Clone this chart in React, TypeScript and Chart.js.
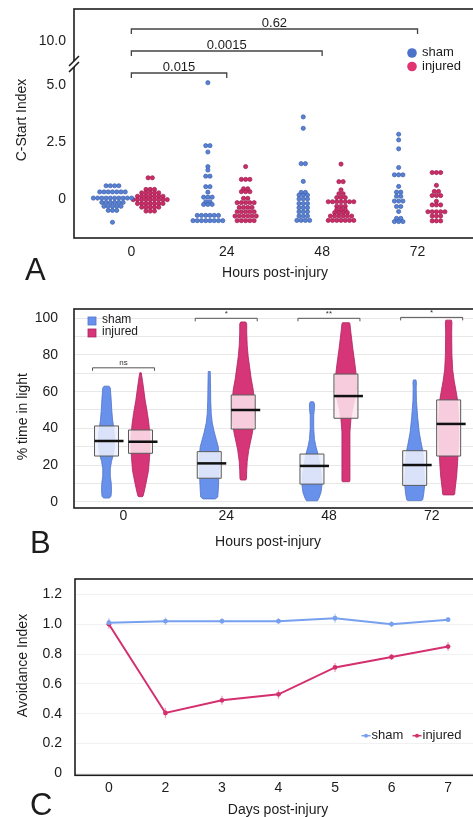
import React, { useEffect, useRef } from "react";
import { Chart, registerables } from "chart.js";

Chart.register(...registerables);

const FONT = "'Liberation Sans', Arial, Helvetica, sans-serif";
const INK = "#1c1c1c";

// ================= Panel A : C-Start Index (dot plots) =================
const hoursA = [0, 24, 48, 72];
const yTickValuesA = [0, 2.5, 5, 10];
// rows: [value, number of fish in that bin]
const shamA0: [number, number][] = [[0.58, 4], [0.31, 7], [0.04, 10], [-0.15, 6], [-0.32, 5], [-0.5, 3], [-1.02, 1]];
const injA0: [number, number][] = [[0.93, 2], [0.42, 3], [0.27, 5], [0.12, 7], [-0.03, 9], [-0.2, 7], [-0.36, 5], [-0.53, 3]];
const shamA24: [number, number][] = [[5.1, 1], [2.34, 2], [2.06, 1], [1.42, 1], [1.27, 1], [1.0, 2], [0.54, 2], [0.3, 1], [0.08, 3], [-0.12, 2], [-0.24, 3], [-0.72, 6], [-0.95, 8]];
const injA24: [number, number][] = [[1.42, 1], [0.86, 3], [0.45, 2], [0.32, 3], [0.03, 2], [-0.16, 5], [-0.37, 4], [-0.56, 5], [-0.75, 6], [-0.95, 5]];
const shamA48: [number, number][] = [[3.6, 1], [3.1, 1], [1.55, 2], [0.77, 1], [0.29, 2], [0.17, 3], [0.0, 3], [-0.2, 3], [-0.38, 3], [-0.56, 3], [-0.75, 3], [-0.94, 4]];
const injA48: [number, number][] = [[1.53, 1], [0.76, 2], [0.4, 1], [0.23, 2], [0.06, 3], [-0.12, 7], [-0.32, 3], [-0.47, 3], [-0.6, 4], [-0.75, 6], [-0.94, 7]];
const shamA72: [number, number][] = [[2.84, 1], [2.59, 1], [2.2, 1], [1.38, 1], [1.06, 3], [0.55, 1], [0.3, 2], [0.12, 2], [-0.09, 3], [-0.33, 2], [-0.55, 1], [-0.85, 2], [-0.99, 3]];
const injA72: [number, number][] = [[1.16, 3], [0.6, 1], [0.33, 2], [0.15, 3], [-0.1, 1], [-0.26, 3], [-0.56, 5], [-0.75, 3], [-0.96, 3]];
const shamGroupsA = [shamA0, shamA24, shamA48, shamA72];
const injGroupsA = [injA0, injA24, injA48, injA72];
const comparisonsA: [number, number, string][] = [[0, 24, "0.015"], [0, 48, "0.0015"], [0, 72, "0.62"]];

// ================= Panel B : % time in light (violins) =================
const hoursB = [0, 24, 48, 72];
const yTickValuesB = [0, 10, 20, 30, 40, 50, 60, 70, 80, 90, 100];
// violin outlines: [value, relative density width]
const shamV0: [number, number][] = [[63, 5], [62, 7.5], [57, 9], [50, 10.5], [45, 12], [41, 14], [36, 16], [30, 16], [25, 13], [22, 10], [18, 7.5], [14, 7.5], [10, 9.5], [6, 10], [3, 9], [2, 6]];
const injV0: [number, number][] = [[70.3, 1.5], [66, 4], [62, 6], [55, 9.5], [48, 14], [42, 17], [35, 19], [28, 19], [24, 18], [17, 16], [10, 11], [5, 7], [3, 5], [2.7, 3]];
const shamV24: [number, number][] = [[71, 2], [65, 2.5], [55, 3], [48, 4], [43, 6], [38, 10], [34, 14], [30, 18], [25, 20], [18, 20], [12, 19], [6, 18], [2.5, 17], [1.5, 12]];
const injV24: [number, number][] = [[98, 5], [97, 7], [92, 7], [85, 8], [79, 10], [73, 13], [67, 16], [61, 20], [55, 22], [48, 23], [42, 21], [37, 18], [32, 14], [28, 11], [22, 8], [17, 7], [12.5, 6.5], [11.8, 5]];
const shamV48: [number, number][] = [[54.5, 3], [53.5, 5], [51, 5], [47, 3.5], [40, 3.5], [34, 5], [30, 8], [26, 12], [20, 16], [14, 19], [9, 20], [5, 18], [2, 14], [0.5, 11]];
const injV48: [number, number][] = [[97.6, 7], [97, 8], [92, 10], [83, 14], [75, 18], [68, 21], [62, 22], [56, 18], [50, 13], [45, 10], [38, 8], [30, 8], [20, 8], [11.5, 8], [10.9, 7]];
const shamV72: [number, number][] = [[66.4, 2.5], [65, 3.5], [62, 3], [55, 3.5], [46, 6], [38, 9], [32, 13], [28, 16], [22, 18], [15, 19], [9, 20], [4, 18], [1, 16], [0.6, 13]];
const injV72: [number, number][] = [[99, 5.5], [98, 6.5], [92, 6], [80, 6.5], [72, 8], [66, 11], [60, 15], [55, 18], [45, 20], [35, 20], [27, 19], [22, 18], [14, 16], [7, 13], [4, 12], [3.7, 10]];
const shamViolins = [shamV0, shamV24, shamV48, shamV72];
const injViolins = [injV0, injV24, injV48, injV72];
// [q1, median, q3]
const shamBoxes: [number, number, number][] = [[24.9, 33.1, 41.3], [12.8, 20.9, 27.3], [9.6, 19.5, 26.0], [8.9, 20.0, 27.8]];
const injBoxes: [number, number, number][] = [[26.4, 32.7, 39.1], [39.6, 50.0, 58.2], [45.5, 57.6, 69.6], [24.9, 42.4, 55.5]];
const sigLabelsB = ["ns", "*", "**", "*"];
const sigLevelsB = [73, 100, 100, 100.5];

// ================= Panel C : Avoidance Index (lines) =================
const daysC = ["0", "2", "3", "4", "5", "6", "7"];
const yTickValuesC = [0, 0.2, 0.4, 0.6, 0.8, 1.0, 1.2];
const shamC = [1.01, 1.02, 1.02, 1.02, 1.04, 1.0, 1.03];
const injuredC = [1.0, 0.405, 0.49, 0.53, 0.71, 0.78, 0.85];
const shamErrC = [0.03, 0.025, 0.02, 0.02, 0.03, 0.02, 0.015];
const injuredErrC = [0.03, 0.035, 0.03, 0.03, 0.03, 0.02, 0.03];

// ---------------- helpers ----------------
const SHAM_DOT = "#5a82d2";
const SHAM_DOT_EDGE = "#3b5fae";
const INJ_DOT = "#cc2c68";
const INJ_DOT_EDGE = "#9c1c4e";
const SHAM_V = "#6891ec";
const SHAM_V_EDGE = "#4f74c8";
const INJ_V = "#d63678";
const INJ_V_EDGE = "#ad2260";
const SHAM_LINE = "#77a0ee";
const INJ_LINE = "#d42f6e";

const brokenPos = (v: number) => (v <= 6 ? v : 6 + (v - 6) * 0.2325);

function expandRows(rows: [number, number][], center: number, gap: number) {
  const pts: { x: number; y: number }[] = [];
  rows.forEach(([v, n]) => {
    for (let i = 0; i < n; i++) pts.push({ x: center + (i - (n - 1) / 2) * gap, y: v });
  });
  return pts;
}

type TextItem = {
  text: string;
  x: number;
  y: number;
  size: number;
  rot?: number;
  align?: CanvasTextAlign;
  baseline?: CanvasTextBaseline;
};

function textPlugin(items: TextItem[]) {
  return {
    id: "texts",
    afterDraw(chart: any) {
      const ctx = chart.ctx as CanvasRenderingContext2D;
      items.forEach((t) => {
        ctx.save();
        ctx.fillStyle = INK;
        ctx.font = `${t.size}px ${FONT}`;
        ctx.textAlign = t.align || "center";
        ctx.textBaseline = t.baseline || "alphabetic";
        ctx.translate(t.x, t.y);
        if (t.rot) ctx.rotate(t.rot);
        ctx.fillText(t.text, 0, 0);
        ctx.restore();
      });
    },
  };
}

const framePlugin = {
  id: "frame",
  afterDraw(chart: any) {
    const { ctx, chartArea } = chart;
    const { left, top, right, bottom } = chartArea;
    ctx.save();
    ctx.strokeStyle = "#1e1e1e";
    ctx.lineWidth = 1.6;
    ctx.strokeRect(left, top, right - left, bottom - top);
    ctx.restore();
  },
};

const tickFont = { family: FONT, size: 14 };

function baseOptions(padTop: number) {
  return {
    animation: false as const,
    responsive: false,
    devicePixelRatio: 1,
    events: [] as any[],
    layout: { padding: { top: padTop, left: 0, right: 0, bottom: 0 } },
    plugins: { legend: { display: false }, tooltip: { enabled: false } },
  };
}

const fitY = (w: number) => (s: any) => {
  s.width = w;
  s.paddingTop = 0;
  s.paddingBottom = 0;
};
const fitX = (h: number) => (s: any) => {
  s.height = h;
  s.paddingLeft = 0;
  s.paddingRight = 0;
};

export default function App() {
  const aRef = useRef<HTMLCanvasElement>(null);
  const bRef = useRef<HTMLCanvasElement>(null);
  const cRef = useRef<HTMLCanvasElement>(null);

  useEffect(() => {
    // ---------------- Panel A ----------------
    const GROUP_OFF_A = 4.75;
    const DOT_GAP_A = 1.07;
    const shamPts = hoursA.flatMap((h, i) => expandRows(shamGroupsA[i], h - GROUP_OFF_A, DOT_GAP_A));
    const injPts = hoursA.flatMap((h, i) => expandRows(injGroupsA[i], h + GROUP_OFF_A, DOT_GAP_A));

    const bracketsA = {
      id: "bracketsA",
      afterDatasetsDraw(chart: any) {
        const ctx = chart.ctx as CanvasRenderingContext2D;
        const xs = chart.scales.x;
        ctx.save();
        ctx.strokeStyle = "#444";
        ctx.lineWidth = 1.3;
        ctx.fillStyle = INK;
        ctx.font = `13px ${FONT}`;
        ctx.textAlign = "center";
        ctx.textBaseline = "alphabetic";
        comparisonsA.forEach(([a, b, label], i) => {
          const y = 73 - i * 22;
          const x1 = xs.getPixelForValue(a);
          const x2 = xs.getPixelForValue(b);
          ctx.beginPath();
          ctx.moveTo(x1, y + 5);
          ctx.lineTo(x1, y);
          ctx.lineTo(x2, y);
          ctx.lineTo(x2, y + 5);
          ctx.stroke();
          ctx.fillText(label, (x1 + x2) / 2, y - 2.5);
        });
        ctx.restore();
      },
    };

    const legendA = {
      id: "legendA",
      afterDraw(chart: any) {
        const ctx = chart.ctx as CanvasRenderingContext2D;
        ctx.save();
        ctx.font = `13px ${FONT}`;
        ctx.textBaseline = "middle";
        ctx.textAlign = "left";
        [["sham", "#4a72c8", 53], ["injured", "#e0336f", 66.5]].forEach(([t, c, y]) => {
          ctx.fillStyle = c as string;
          ctx.beginPath();
          ctx.arc(412, y as number, 4.8, 0, Math.PI * 2);
          ctx.fill();
          ctx.fillStyle = INK;
          ctx.fillText(t as string, 422, (y as number) - 0.5);
        });
        ctx.restore();
      },
    };

    const breakA = {
      id: "breakA",
      afterDraw(chart: any) {
        const ctx = chart.ctx as CanvasRenderingContext2D;
        const left = chart.chartArea.left;
        ctx.save();
        ctx.fillStyle = "#fff";
        ctx.fillRect(left - 3, 61, 6, 6);
        ctx.strokeStyle = "#1e1e1e";
        ctx.lineWidth = 1.6;
        ctx.beginPath();
        ctx.moveTo(left - 5, 66);
        ctx.lineTo(left + 5, 56);
        ctx.moveTo(left - 5, 72);
        ctx.lineTo(left + 5, 62);
        ctx.stroke();
        ctx.restore();
      },
    };

    const chartA = new Chart(aRef.current as HTMLCanvasElement, {
      type: "scatter",
      data: {
        datasets: [
          {
            label: "sham",
            data: shamPts,
            pointRadius: 2.1,
            pointBackgroundColor: SHAM_DOT,
            pointBorderColor: SHAM_DOT_EDGE,
            pointBorderWidth: 0.7,
          },
          {
            label: "injured",
            data: injPts,
            pointRadius: 2.1,
            pointBackgroundColor: INJ_DOT,
            pointBorderColor: INJ_DOT_EDGE,
            pointBorderWidth: 0.7,
          },
        ],
      },
      options: {
        ...baseOptions(9),
        scales: {
          x: {
            type: "linear",
            min: -14.43,
            max: 89.05,
            afterBuildTicks: (s: any) => {
              s.ticks = hoursA.map((v) => ({ value: v }));
            },
            afterFit: fitX(52),
            grid: { display: false, drawTicks: false },
            border: { display: false },
            ticks: { padding: 5.6, font: tickFont, color: INK, autoSkip: false, maxRotation: 0, callback: (v: any) => String(v) },
          },
          y: {
            type: "linear",
            min: -1.711,
            max: 8.333,
            afterBuildTicks: (s: any) => {
              s.ticks = yTickValuesA.map((v) => ({ value: brokenPos(v) }));
            },
            afterFit: fitY(74),
            grid: { display: false, drawTicks: false },
            border: { display: false },
            ticks: {
              padding: 8,
              font: tickFont,
              color: INK,
              callback: (_v: any, i: number) => (yTickValuesA[i] === 0 ? "0" : yTickValuesA[i].toFixed(1)),
            },
          },
        },
      } as any,
      plugins: [
        framePlugin,
        breakA,
        bracketsA,
        legendA,
        textPlugin([
          { text: "C-Start Index", x: 22, y: 120, size: 14, rot: -Math.PI / 2, baseline: "middle" },
          { text: "Hours post-injury", x: 275, y: 277, size: 14 },
          { text: "A", x: 25, y: 280, size: 31, align: "left" },
        ]),
      ],
    });

    // ---------------- Panel B ----------------
    const GROUP_OFF_B = 3.97;
    const violinsB = {
      id: "violinsB",
      beforeDatasetsDraw(chart: any) {
        const ctx = chart.ctx as CanvasRenderingContext2D;
        const xs = chart.scales.x;
        const ys = chart.scales.y;
        const drawOne = (
          h: number,
          off: number,
          prof: [number, number][],
          box: [number, number, number],
          fill: string,
          edge: string,
          boxFill: string
        ) => {
          const cx = xs.getPixelForValue(h + off);
          ctx.save();
          ctx.beginPath();
          prof.forEach(([v, w], i) => {
            const px = cx - w * 0.5;
            const py = ys.getPixelForValue(v);
            if (i === 0) ctx.moveTo(px, py);
            else ctx.lineTo(px, py);
          });
          for (let i = prof.length - 1; i >= 0; i--) {
            const [v, w] = prof[i];
            ctx.lineTo(cx + w * 0.5, ys.getPixelForValue(v));
          }
          ctx.closePath();
          ctx.fillStyle = fill;
          ctx.fill();
          ctx.strokeStyle = edge;
          ctx.lineWidth = 0.8;
          ctx.lineJoin = "round";
          ctx.stroke();
          // box
          const bw = 12;
          const yq3 = ys.getPixelForValue(box[2]);
          const yq1 = ys.getPixelForValue(box[0]);
          ctx.fillStyle = boxFill;
          ctx.fillRect(cx - bw, yq3, bw * 2, yq1 - yq3);
          ctx.strokeStyle = "#5a5a5a";
          ctx.lineWidth = 1;
          ctx.strokeRect(cx - bw, yq3, bw * 2, yq1 - yq3);
          // median
          const ym = ys.getPixelForValue(box[1]);
          ctx.strokeStyle = "#111";
          ctx.lineWidth = 2.5;
          ctx.beginPath();
          ctx.moveTo(cx - bw, ym);
          ctx.lineTo(cx + bw + 5, ym);
          ctx.stroke();
          ctx.restore();
        };
        hoursB.forEach((h, i) => {
          drawOne(h, -GROUP_OFF_B, shamViolins[i], shamBoxes[i], SHAM_V, SHAM_V_EDGE, "rgba(236,240,252,0.86)");
          drawOne(h, GROUP_OFF_B, injViolins[i], injBoxes[i], INJ_V, INJ_V_EDGE, "rgba(253,231,238,0.86)");
        });
        // significance brackets
        ctx.save();
        ctx.strokeStyle = "#555";
        ctx.lineWidth = 1;
        ctx.fillStyle = "#333";
        ctx.font = `8px ${FONT}`;
        ctx.textAlign = "center";
        hoursB.forEach((h, i) => {
          const cx = xs.getPixelForValue(h);
          const y = ys.getPixelForValue(sigLevelsB[i]);
          ctx.beginPath();
          ctx.moveTo(cx - 31, y + 3);
          ctx.lineTo(cx - 31, y);
          ctx.lineTo(cx + 31, y);
          ctx.lineTo(cx + 31, y + 3);
          ctx.stroke();
          ctx.fillText(sigLabelsB[i], cx, y - 2.5);
        });
        ctx.restore();
      },
    };

    const legendB = {
      id: "legendB",
      afterDraw(chart: any) {
        const ctx = chart.ctx as CanvasRenderingContext2D;
        ctx.save();
        ctx.font = `12px ${FONT}`;
        ctx.textBaseline = "middle";
        ctx.textAlign = "left";
        [["sham", SHAM_V, SHAM_V_EDGE, 31], ["injured", INJ_V, INJ_V_EDGE, 43]].forEach(([t, c, e, y]) => {
          ctx.fillStyle = c as string;
          ctx.fillRect(88, (y as number) - 4, 8, 8);
          ctx.strokeStyle = e as string;
          ctx.lineWidth = 0.8;
          ctx.strokeRect(88, (y as number) - 4, 8, 8);
          ctx.fillStyle = INK;
          ctx.fillText(t as string, 102, (y as number) - 1);
        });
        ctx.restore();
      },
    };

    const chartB = new Chart(bRef.current as HTMLCanvasElement, {
      type: "scatter",
      data: {
        datasets: [
          { label: "sham", data: hoursB.map((h, i) => ({ x: h - GROUP_OFF_B, y: shamBoxes[i][1] })), pointRadius: 0 },
          { label: "injured", data: hoursB.map((h, i) => ({ x: h + GROUP_OFF_B, y: injBoxes[i][1] })), pointRadius: 0 },
        ],
      },
      options: {
        ...baseOptions(19),
        scales: {
          x: {
            type: "linear",
            min: -11.57,
            max: 85.63,
            afterBuildTicks: (s: any) => {
              s.ticks = hoursB.map((v) => ({ value: v }));
            },
            afterFit: fitX(52),
            grid: { display: false, drawTicks: false },
            border: { display: false },
            ticks: { padding: 0, font: tickFont, color: INK, autoSkip: false, maxRotation: 0, callback: (v: any) => String(v) },
          },
          y: {
            type: "linear",
            min: -3.435,
            max: 105.07,
            afterBuildTicks: (s: any) => {
              s.ticks = yTickValuesB.map((v) => ({ value: v }));
            },
            afterFit: fitY(74),
            grid: { display: true, drawTicks: false, color: "#e8e8e8", lineWidth: 1 },
            border: { display: false },
            ticks: {
              padding: 16,
              font: tickFont,
              color: INK,
              callback: (v: any) => (v % 20 === 0 ? String(v) : ""),
            },
          },
        },
      } as any,
      plugins: [
        violinsB,
        framePlugin,
        legendB,
        textPlugin([
          { text: "% time in light", x: 23, y: 126.7, size: 14, rot: -Math.PI / 2, baseline: "middle" },
          { text: "Hours post-injury", x: 268, y: 256, size: 14 },
          { text: "B", x: 30, y: 263, size: 31, align: "left" },
        ]),
      ],
    });

    // ---------------- Panel C ----------------
    const errorBarsC = {
      id: "errorBarsC",
      beforeDatasetsDraw(chart: any) {
        const ctx = chart.ctx as CanvasRenderingContext2D;
        const xs = chart.scales.x;
        const ys = chart.scales.y;
        ctx.save();
        ctx.lineWidth = 1.2;
        const draw = (vals: number[], errs: number[], color: string) => {
          ctx.strokeStyle = color;
          vals.forEach((v, i) => {
            const x = xs.getPixelForValue(i);
            ctx.beginPath();
            ctx.moveTo(x, ys.getPixelForValue(v - errs[i]));
            ctx.lineTo(x, ys.getPixelForValue(v + errs[i]));
            ctx.stroke();
          });
        };
        draw(shamC, shamErrC, "rgba(119,160,238,0.55)");
        draw(injuredC, injuredErrC, "rgba(212,47,110,0.45)");
        ctx.restore();
      },
    };

    const legendC = {
      id: "legendC",
      afterDraw(chart: any) {
        const ctx = chart.ctx as CanvasRenderingContext2D;
        ctx.save();
        ctx.font = `13px ${FONT}`;
        ctx.textBaseline = "middle";
        ctx.textAlign = "left";
        const y = 175.7;
        [["sham", SHAM_LINE, 361.5], ["injured", INJ_LINE, 412.5]].forEach(([t, c, x0]) => {
          const x = x0 as number;
          ctx.strokeStyle = c as string;
          ctx.fillStyle = c as string;
          ctx.lineWidth = 1.5;
          ctx.beginPath();
          ctx.moveTo(x, y);
          ctx.lineTo(x + 9, y);
          ctx.stroke();
          ctx.beginPath();
          ctx.arc(x + 4.5, y, 2, 0, Math.PI * 2);
          ctx.fill();
          ctx.fillStyle = INK;
          ctx.fillText(t as string, x + 10, y);
        });
        ctx.restore();
      },
    };

    const chartC = new Chart(cRef.current as HTMLCanvasElement, {
      type: "line",
      data: {
        datasets: [
          {
            label: "sham",
            data: shamC.map((v, i) => ({ x: i, y: v })),
            borderColor: SHAM_LINE,
            backgroundColor: SHAM_LINE,
            borderWidth: 2,
            pointRadius: 2.4,
            pointBackgroundColor: SHAM_LINE,
            pointBorderWidth: 0,
            tension: 0,
          },
          {
            label: "injured",
            data: injuredC.map((v, i) => ({ x: i, y: v })),
            borderColor: INJ_LINE,
            backgroundColor: INJ_LINE,
            borderWidth: 2,
            pointRadius: 2.4,
            pointBackgroundColor: INJ_LINE,
            pointBorderWidth: 0,
            tension: 0,
          },
        ],
      },
      options: {
        ...baseOptions(19),
        scales: {
          x: {
            type: "linear",
            min: -0.6,
            max: 6.671,
            afterBuildTicks: (s: any) => {
              s.ticks = daysC.map((_d, i) => ({ value: i }));
            },
            afterFit: fitX(41.7),
            grid: { display: false, drawTicks: false },
            border: { display: false },
            ticks: { padding: 4.6, font: tickFont, color: INK, autoSkip: false, maxRotation: 0, callback: (_v: any, i: number) => daysC[i] },
          },
          y: {
            type: "linear",
            min: -0.0127,
            max: 1.3029,
            afterBuildTicks: (s: any) => {
              s.ticks = yTickValuesC.map((v) => ({ value: v }));
            },
            afterFit: fitY(75),
            grid: { display: true, drawTicks: false, color: "#f1f1f1", lineWidth: 1 },
            border: { display: false },
            ticks: {
              padding: 13,
              font: tickFont,
              color: INK,
              callback: (_v: any, i: number) => (yTickValuesC[i] === 0 ? "0" : yTickValuesC[i].toFixed(1)),
            },
          },
        },
      } as any,
      plugins: [
        errorBarsC,
        framePlugin,
        legendC,
        textPlugin([
          { text: "Avoidance Index", x: 23, y: 105.5, size: 14, rot: -Math.PI / 2, baseline: "middle" },
          { text: "Days post-injury", x: 278, y: 254, size: 14 },
          { text: "C", x: 30, y: 255, size: 31, align: "left" },
        ]),
      ],
    });

    return () => {
      chartA.destroy();
      chartB.destroy();
      chartC.destroy();
    };
  }, []);

  const cv = (top: number, h: number): React.CSSProperties => ({
    position: "absolute",
    left: 0,
    top,
    width: 490,
    height: h,
    display: "block",
  });

  return (
    <div
      style={{
        position: "absolute",
        left: 0,
        top: 0,
        width: 473,
        height: 817,
        overflow: "hidden",
        background: "#fff",
      }}
    >
      <canvas ref={aRef} width={490} height={290} style={cv(0, 290)} />
      <canvas ref={bRef} width={490} height={270} style={cv(290, 270)} />
      <canvas ref={cRef} width={490} height={257} style={cv(560, 257)} />
    </div>
  );
}
